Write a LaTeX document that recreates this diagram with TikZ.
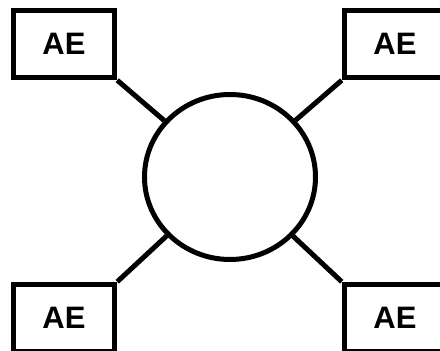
\documentclass[tikz,border=0pt]{standalone}
\usepackage{fontspec}
\setmainfont{Liberation Sans}
\usetikzlibrary{shapes.geometric}
\begin{document}
\begin{tikzpicture}[x=1pt,y=1pt,
  box/.style={draw, line width=5.5pt, minimum width=101pt, minimum height=67pt, inner sep=0pt, font=\fontsize{31}{36}\selectfont\bfseries},
  hub/.style={ellipse, draw, line width=5pt, minimum width=171pt, minimum height=165pt, inner sep=0pt},
  link/.style={line width=5pt}]
\useasboundingbox (0,0) rectangle (440,351);
\clip (0,0) rectangle (440,351);
\node[box] (tl) at (64,307) {AE};
\node[box] (tr) at (395,307) {AE};
\node[box] (bl) at (64,33) {AE};
\node[box] (br) at (395,33) {AE};
\node[hub] (c) at (230,174) {};
\draw[link] (tl.south east) -- (c);
\draw[link] (tr.south west) -- (c);
\draw[link] (bl.north east) -- (c);
\draw[link] (br.north west) -- (c);
\end{tikzpicture}
\end{document}
